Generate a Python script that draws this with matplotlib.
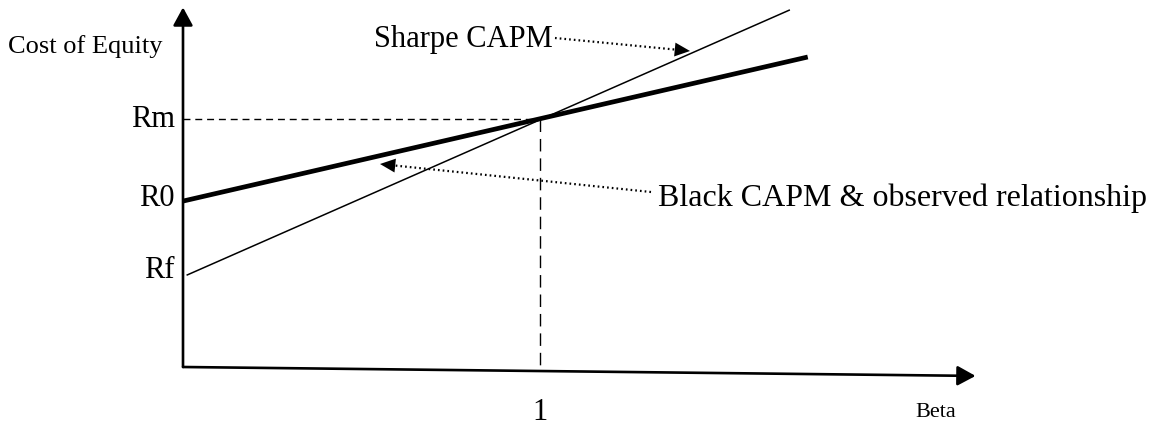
import matplotlib
matplotlib.use("Agg")
import matplotlib.pyplot as plt
import numpy as np

plt.rcParams['font.family'] = ['Liberation Serif', 'DejaVu Serif']
plt.rcParams['lines.scale_dashes'] = False

# waarden van de grafiek (beta / kosten eigen vermogen)
niveau_namen = ['Rm', 'R0', 'Rf']
niveaus = [10.0, 6.69, 3.67]
markt_beta = 1.0

sharpe_beta = [0.01, 1.70]
sharpe_rend = [3.7, 14.4]
black_beta = [0.0, 1.75]
black_rend = [6.69, 12.5]

as_x_eind = 2.22
as_y_eind = 14.5
as_x_zak = -0.36   # x-as loopt iets af naar rechts

# schaal: 357 px per beta, 24.8 px per eenheid, oorsprong op (183, 368)
W, H = 1156, 439
fig = plt.figure(figsize=(W / 100, H / 100), dpi=100)
ax = fig.add_axes([0, 0, 1, 1])
ax.set_xlim(-183 / 357, (W - 183) / 357)
ax.set_ylim(-(H - 368) / 24.8, 368 / 24.8)
ax.axis('off')


def px(x, y):
    return (x / W, 1 - y / H)


# assen met pijlpunt
pijl = dict(arrowstyle='-|>,head_length=11,head_width=6', color='black',
            lw=1.9, shrinkA=0, shrinkB=0, mutation_scale=1)
ax.annotate('', xy=(0, as_y_eind), xytext=(0, 0), arrowprops=pijl)
ax.annotate('', xy=(as_x_eind, as_x_zak), xytext=(0, 0), arrowprops=pijl)

# stippellijnen naar Rm en beta = 1
ax.plot([0, markt_beta], [niveaus[0], niveaus[0]], color='black', lw=1.0,
        linestyle=(0, (5, 3.5)))
ax.plot([markt_beta, markt_beta], [niveaus[0], as_x_zak * markt_beta / as_x_eind],
        color='black', lw=1.0, linestyle=(0, (9, 5)))

# de twee lijnen
ax.plot(sharpe_beta, sharpe_rend, color='black', lw=1.1, solid_capstyle='butt')
ax.plot(black_beta, black_rend, color='black', lw=3.4, solid_capstyle='butt')

# labels op de y-as
for naam, y in zip(niveau_namen, [120, 199, 271]):
    ax.text(*px(175, y), naam, transform=ax.transAxes, ha='right', va='center',
            fontsize=22)

ax.text(*px(8, 47), 'Cost of Equity', transform=ax.transAxes, ha='left',
        va='center', fontsize=19)
ax.text(*px(540, 413), '1', transform=ax.transAxes, ha='center', va='center',
        fontsize=22)
ax.text(*px(915, 413), 'Beta', transform=ax.transAxes, ha='left', va='center',
        fontsize=16)
ax.text(*px(553, 40), 'Sharpe CAPM', transform=ax.transAxes, ha='right',
        va='center', fontsize=22)
ax.text(*px(658, 198), 'Black CAPM & observed relationship',
        transform=ax.transAxes, ha='left', va='center', fontsize=23)

# gestippelde verwijspijlen
kop = dict(arrowstyle='-|>,head_length=11,head_width=5', color='black',
           lw=0, shrinkA=0, shrinkB=0, mutation_scale=1)
for start, tip in [((555, 39), (690, 52)), ((651, 193), (380, 165))]:
    s = np.array(start, float)
    t = np.array(tip, float)
    r = (s - t) / np.hypot(*(s - t))
    m = t + r * 13
    ax.plot([px(*s)[0], px(*m)[0]], [px(*s)[1], px(*m)[1]],
            transform=ax.transAxes, color='black', lw=1.6,
            linestyle=(0, (1.2, 2.2)))
    ax.annotate('', xy=px(*t), xytext=px(*s), xycoords='axes fraction',
                textcoords='axes fraction', arrowprops=kop)

fig.savefig('out.png', dpi=100)
